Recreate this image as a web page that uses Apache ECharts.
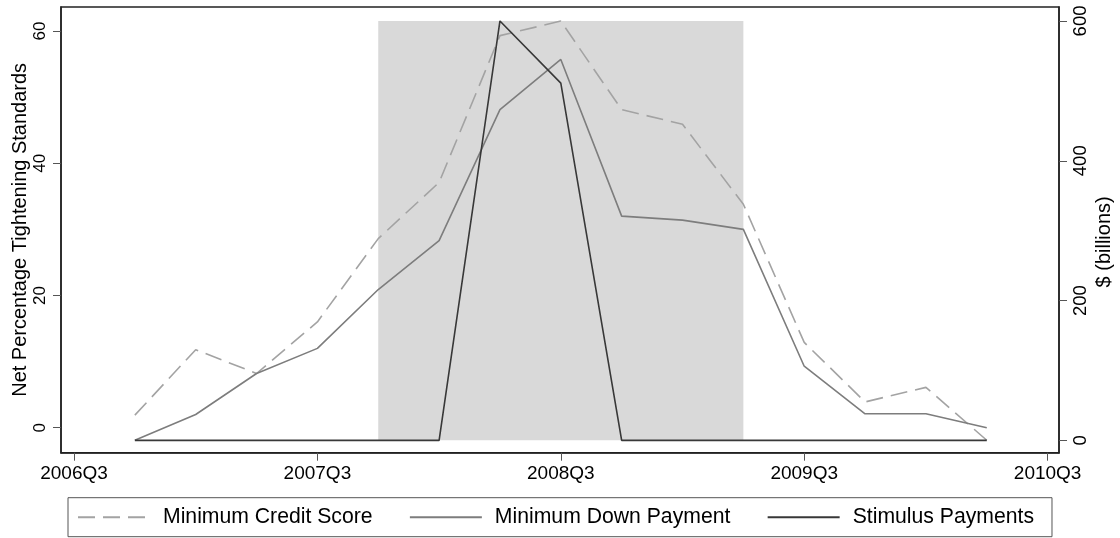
<!DOCTYPE html>
<html>
<head>
<meta charset="utf-8">
<script src="https://cdn.jsdelivr.net/npm/echarts@6/dist/echarts.min.js"></script>
<style>
  html, body { margin: 0; padding: 0; background: #ffffff; }
  #chart { width: 1120px; height: 538px; }
</style>
</head>
<body>
<div id="chart"></div>
<script>
// Quarter positions along the horizontal axis (index = position)
const quarters = [
  '2006Q3', '2006Q4', '2007Q1', '2007Q2', '2007Q3', '2007Q4', '2008Q1', '2008Q2',
  '2008Q3', '2008Q4', '2009Q1', '2009Q2', '2009Q3', '2009Q4', '2010Q1', '2010Q2', '2010Q3'
];
const xTickQuarters = ['2006Q3', '2007Q3', '2008Q3', '2009Q3', '2010Q3'];

// Survey quarters with observations
const obsQuarters = [
  '2006Q4', '2007Q1', '2007Q2', '2007Q3', '2007Q4', '2008Q1', '2008Q2', '2008Q3',
  '2008Q4', '2009Q1', '2009Q2', '2009Q3', '2009Q4', '2010Q1', '2010Q2'
];

// Net percentage of banks tightening standards
const creditScore = [1.9, 11.8, 8.2, 16.0, 28.6, 37.1, 59.3, 61.5, 48.1, 45.9, 33.8, 12.9, 3.9, 6.1, -1.9];
const downPayment = [-1.9, 2.0, 8.2, 12.0, 20.9, 28.3, 48.1, 55.7, 32.0, 31.4, 30.0, 9.3, 2.1, 2.1, 0.0];

// Stimulus payments, $ billions
const stimulus = [0, 0, 0, 0, 0, 0, 600, 511, 0, 0, 0, 0, 0, 0, 0];

// Shaded period and its height on the $ axis
const shadeFrom = '2007Q4';
const shadeTo = '2009Q2';
const shadeTop = 600;

const leftTicks = [0, 20, 40, 60];
const rightTicks = [0, 200, 400, 600];

const FONT = '"Liberation Sans", Arial, Helvetica, sans-serif';
const AXIS_COLOR = '#222222';

const qi = q => quarters.indexOf(q);
const pairs = vals => obsQuarters.map((q, i) => [qi(q), vals[i]]);

const chart = echarts.init(document.getElementById('chart'), null, { renderer: 'canvas' });

const axisLineStyle = { show: true, onZero: false, lineStyle: { color: AXIS_COLOR, width: 1.5 } };
const tickStyle = { show: true, inside: false, length: 8, lineStyle: { color: '#555555', width: 1 } };

chart.setOption({
  animation: false,
  backgroundColor: '#ffffff',
  textStyle: { fontFamily: FONT },
  grid: {
    left: 61, right: 61, top: 7, bottom: 85.3,
    containLabel: false, outerBoundsMode: 'none',
    show: true, borderColor: AXIS_COLOR, borderWidth: 1.5, backgroundColor: 'transparent'
  },
  legend: {
    data: ['Minimum Credit Score', 'Minimum Down Payment', 'Stimulus Payments'],
    left: 68, top: 497.7,
    orient: 'horizontal',
    itemWidth: 72, itemHeight: 14, itemGap: 36.3,
    padding: [9, 18, 9, 9],
    borderColor: '#555555', borderWidth: 1,
    itemStyle: { opacity: 0 },
    textStyle: { fontFamily: FONT, fontSize: 21.2, color: '#000000', padding: [0, 0, 0, 8] }
  },
  xAxis: {
    type: 'value',
    min: -0.2136, max: 16.187,
    axisLine: axisLineStyle,
    axisTick: Object.assign({}, tickStyle, { customValues: xTickQuarters.map(qi) }),
    splitLine: { show: false },
    axisLabel: {
      customValues: xTickQuarters.map(qi),
      formatter: v => quarters[Math.round(v)],
      fontFamily: FONT, fontSize: 19, color: '#000000', margin: 12
    }
  },
  yAxis: [
    {
      type: 'value', position: 'left',
      min: -3.78, max: 63.63,
      name: 'Net Percentage Tightening Standards',
      nameLocation: 'middle', nameGap: 30.5, nameRotate: 90, nameMoveOverlap: false,
      nameTextStyle: { fontFamily: FONT, fontSize: 20, color: '#000000' },
      axisLine: axisLineStyle,
      axisTick: Object.assign({}, tickStyle, { customValues: leftTicks }),
      splitLine: { show: false },
      axisLabel: {
        customValues: leftTicks, rotate: 90,
        fontFamily: FONT, fontSize: 17, color: '#000000', margin: 12
      }
    },
    {
      type: 'value', position: 'right',
      min: -17.7, max: 620.0,
      name: '$ (billions)',
      nameLocation: 'middle', nameGap: 35, nameRotate: 90, nameMoveOverlap: false,
      nameTextStyle: { fontFamily: FONT, fontSize: 20, color: '#000000', padding: [0, 24, 0, 0] },
      axisLine: axisLineStyle,
      axisTick: Object.assign({}, tickStyle, { customValues: rightTicks }),
      splitLine: { show: false },
      axisLabel: {
        customValues: rightTicks, rotate: 90,
        fontFamily: FONT, fontSize: 18.5, color: '#000000', margin: 12
      }
    }
  ],
  series: [
    {
      // shaded period, drawn beneath the lines
      name: 'Shaded period',
      type: 'line', yAxisIndex: 1, z: 1,
      data: [],
      silent: true,
      markArea: {
        silent: true,
        itemStyle: { color: '#d9d9d9' },
        data: [[{ xAxis: qi(shadeFrom), yAxis: 0 }, { xAxis: qi(shadeTo), yAxis: shadeTop }]]
      }
    },
    {
      name: 'Minimum Credit Score',
      type: 'line', yAxisIndex: 0, z: 3,
      data: pairs(creditScore),
      symbol: 'none',
      lineStyle: { color: '#a3a3a3', width: 1.6, type: [17, 8] },
      itemStyle: { color: '#a3a3a3' }
    },
    {
      name: 'Minimum Down Payment',
      type: 'line', yAxisIndex: 0, z: 3,
      data: pairs(downPayment),
      symbol: 'none',
      lineStyle: { color: '#7d7d7d', width: 1.6 },
      itemStyle: { color: '#7d7d7d' }
    },
    {
      name: 'Stimulus Payments',
      type: 'line', yAxisIndex: 1, z: 4,
      data: pairs(stimulus),
      symbol: 'none',
      lineStyle: { color: '#383838', width: 1.6 },
      itemStyle: { color: '#383838' }
    }
  ]
});
</script>
</body>
</html>
